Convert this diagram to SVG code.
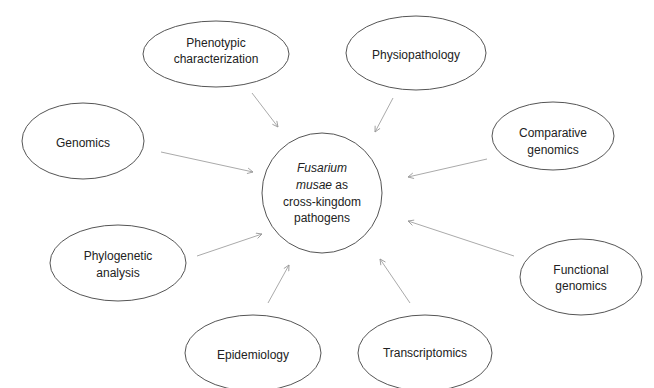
<svg xmlns="http://www.w3.org/2000/svg" width="654" height="388" viewBox="0 0 654 388">
<defs>
<marker id="ah" viewBox="0 0 10 10" refX="9" refY="5" markerWidth="7" markerHeight="7" markerUnits="userSpaceOnUse" orient="auto">
<path d="M1,1 L9,5 L1,9" fill="none" stroke="#999" stroke-width="1.2"/>
</marker>
<style>
.n{fill:#fff;stroke:#555;stroke-width:1}
.t{font-family:"Liberation Sans",Arial,sans-serif;font-size:12px;fill:#222;text-anchor:middle}
.c{stroke:#aaa;stroke-width:1;fill:none;marker-end:url(#ah)}
</style>
</defs>
<rect width="654" height="388" fill="#fff"/>
<g id="connectors">
<line class="c" x1="252" y1="93" x2="278" y2="127"/>
<line class="c" x1="161" y1="152" x2="253" y2="172"/>
<line class="c" x1="393" y1="98" x2="375" y2="132"/>
<line class="c" x1="487" y1="159" x2="408" y2="177"/>
<line class="c" x1="197" y1="256" x2="262" y2="234"/>
<line class="c" x1="268" y1="303" x2="289" y2="265"/>
<line class="c" x1="514" y1="256" x2="408" y2="221"/>
<line class="c" x1="410" y1="303" x2="380" y2="259"/>
</g>
<g id="center">
<circle class="n" cx="322" cy="193" r="60"/>
<text class="t" x="322" y="172" font-style="italic">Fusarium</text>
<text class="t" x="322" y="189"><tspan font-style="italic">musae</tspan> as</text>
<text class="t" x="322" y="206">cross-kingdom</text>
<text class="t" x="322" y="222">pathogens</text>
</g>
<g id="phenotypic">
<ellipse class="n" cx="216" cy="54" rx="73" ry="33"/>
<text class="t" x="216" y="47">Phenotypic</text>
<text class="t" x="216" y="63">characterization</text>
</g>
<g id="physiopathology">
<ellipse class="n" cx="416" cy="53" rx="70" ry="37"/>
<text class="t" x="416" y="59">Physiopathology</text>
</g>
<g id="genomics">
<ellipse class="n" cx="83" cy="141" rx="61" ry="38"/>
<text class="t" x="83" y="147">Genomics</text>
</g>
<g id="comparative">
<ellipse class="n" cx="553" cy="136" rx="61" ry="34"/>
<text class="t" x="553" y="137">Comparative</text>
<text class="t" x="553" y="154">genomics</text>
</g>
<g id="phylogenetic">
<ellipse class="n" cx="118" cy="263" rx="68" ry="38"/>
<text class="t" x="118" y="260">Phylogenetic</text>
<text class="t" x="118" y="277">analysis</text>
</g>
<g id="functional">
<ellipse class="n" cx="581" cy="277" rx="61" ry="38"/>
<text class="t" x="581" y="274">Functional</text>
<text class="t" x="581" y="290">genomics</text>
</g>
<g id="epidemiology">
<ellipse class="n" cx="253" cy="353" rx="68" ry="38"/>
<text class="t" x="253" y="359">Epidemiology</text>
</g>
<g id="transcriptomics">
<ellipse class="n" cx="425" cy="353" rx="67" ry="38"/>
<text class="t" x="425" y="357">Transcriptomics</text>
</g>
</svg>
